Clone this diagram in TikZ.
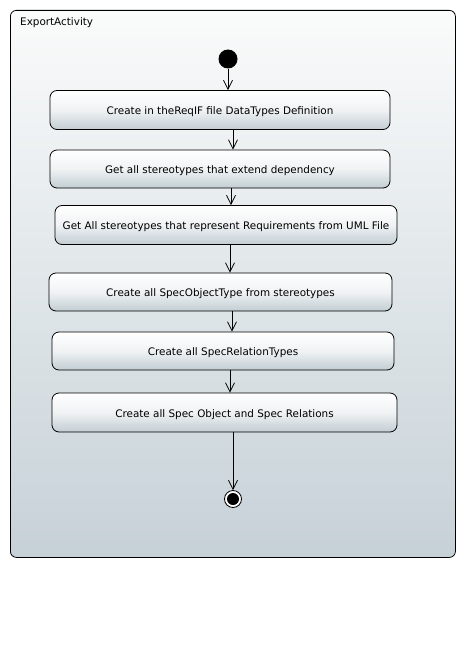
\documentclass[tikz,border=0pt]{standalone}
\usepackage{fontspec}
\setmainfont{DejaVu Sans}
\usetikzlibrary{arrows.meta}
\definecolor{fbot}{HTML}{C6D1D7}
\definecolor{ftop}{HTML}{FAFBFB}
\definecolor{bbot}{HTML}{C2CDD3}
\tikzset{
  frame/.style={draw=black, line width=0.8pt, rounded corners=6pt, top color=ftop, bottom color=fbot},
  action/.style={draw=black, line width=0.8pt, rounded corners=7pt, top color=white, bottom color=bbot, middle color=white!75!bbot, inner sep=0pt, text height=10pt, text depth=1pt, font=\fontsize{10.4}{12}\selectfont},
  flow/.style={draw=black, line width=0.8pt, -{Straight Barb[length=9pt,width=9pt]}},
}
\begin{document}
\begin{tikzpicture}[x=1pt,y=-1pt]
\useasboundingbox[fill=white] (0,0) rectangle (466,669);
\node[frame, anchor=north west, minimum width=445pt, minimum height=547pt] (fr) at (10,10) {};
\node[anchor=west, font=\fontsize{10.4}{12}\selectfont, inner sep=0pt] (lbl) at (20,23) {ExportActivity};
\node[circle, fill=black, minimum size=19pt, inner sep=0pt] (init) at (228,59) {};
\node[action, minimum width=340pt, minimum height=39pt] (b1) at (220,110) {Create in theReqIF file DataTypes Definition};
\node[action, minimum width=340pt, minimum height=38pt] (b2) at (220,169) {Get all stereotypes that extend dependency};
\node[action, minimum width=342pt, minimum height=39pt] (b3) at (226,225) {Get All stereotypes that represent Requirements from UML File};
\node[action, minimum width=343pt, minimum height=38pt] (b4) at (220.5,292) {Create all SpecObjectType from stereotypes};
\node[action, minimum width=342pt, minimum height=38pt] (b5) at (223,351) {Create all SpecRelationTypes};
\node[action, minimum width=345pt, minimum height=39pt] (b6) at (224.5,412.5) {Create all Spec Object and Spec Relations};
\node[circle, draw=black, line width=0.8pt, fill=white, minimum size=17pt, inner sep=0pt] (fin) at (233,499) {};
\node[circle, fill=black, minimum size=12pt, inner sep=0pt] (finc) at (fin) {};
\draw[flow] (init) -- (init |- b1.north);
\draw[flow] (233,0 |- b1.south) -- (233,0 |- b2.north);
\draw[flow] (231,0 |- b2.south) -- (231,0 |- b3.north);
\draw[flow] (230,0 |- b3.south) -- (230,0 |- b4.north);
\draw[flow] (232,0 |- b4.south) -- (232,0 |- b5.north);
\draw[flow] (230,0 |- b5.south) -- (230,0 |- b6.north);
\draw[flow] (fin |- b6.south) -- (fin.north);
\end{tikzpicture}
\end{document}
